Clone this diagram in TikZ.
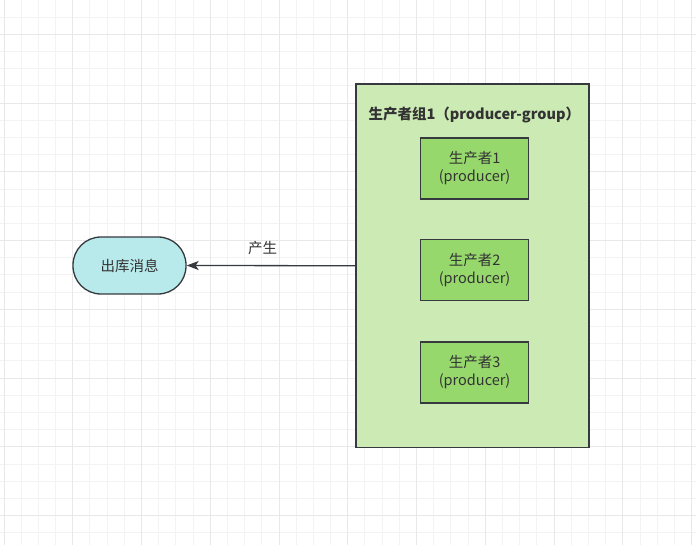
\documentclass[tikz,border=0pt]{standalone}
\usepackage{fontspec}
\newfontfamily\cjk{Noto Sans CJK SC}
\usetikzlibrary{arrows.meta}

\definecolor{gridminor}{HTML}{F3F3F3}
\definecolor{gridmajor}{HTML}{E8E8E8}
\definecolor{groupfill}{HTML}{CCEBB4}
\definecolor{prodfill}{HTML}{97D86D}
\definecolor{msgfill}{HTML}{B9EAEB}
\definecolor{edgecol}{HTML}{36393D}
\definecolor{textcol}{HTML}{333333}

\begin{document}
\begin{tikzpicture}[x=1pt,y=-1pt,
    every node/.style={font=\cjk\fontsize{14.5}{18}\selectfont,text=textcol},
    groupbox/.style={draw=edgecol,line width=1.3pt,fill=groupfill,inner sep=0pt,
        minimum width=233pt,minimum height=363.5pt},
    producer/.style={draw=edgecol,line width=1.3pt,fill=prodfill,align=center,
        inner sep=0pt,minimum width=108pt,minimum height=61pt},
    message/.style={draw=edgecol,line width=1.3pt,fill=msgfill,rounded corners=28pt,
        inner sep=0pt,minimum width=113pt,minimum height=57pt},
    link/.style={draw=edgecol,line width=1.3pt,-{Stealth[length=12pt,width=9pt,inset=3pt]}}]

    % Page and grid
    \useasboundingbox (0,0) rectangle (696,545);
    \fill[white] (0,0) rectangle (696,545);
    \foreach \i in {0,...,40}
        \draw[gridminor,line width=1pt] ({4+17.19*\i},0) -- ({4+17.19*\i},545);
    \foreach \j in {-1,...,29}
        \draw[gridminor,line width=1pt] (0,{34.3+17.19*\j}) -- (696,{34.3+17.19*\j});
    \foreach \i in {0,...,10}
        \draw[gridmajor,line width=1pt] ({4+68.77*\i},0) -- ({4+68.77*\i},545);
    \foreach \j in {0,...,7}
        \draw[gridmajor,line width=1pt] (0,{34.3+68.77*\j}) -- (696,{34.3+68.77*\j});

    % Producer group
    \node[groupbox] (group) at (472.5,265.75) {};
    \node[anchor=west,font=\cjk\bfseries\fontsize{14.5}{18}\selectfont] (title) at (365,115)
        {生产者组1（producer-group）};

    % Producers
    \node[producer] (prod1) at (474.6,168.5) {生产者1\\(producer)};
    \node[producer] (prod2) at (474.6,270) {生产者2\\(producer)};
    \node[producer] (prod3) at (474.6,372.5) {生产者3\\(producer)};

    % Outbound message
    \node[message] (msg) at (129.5,265.5) {出库消息};

    % Arrow
    \draw[link] (group.west) -- node[pos=0.55,yshift=17.5pt] (produce) {产生} (msg.east);
\end{tikzpicture}
\end{document}
